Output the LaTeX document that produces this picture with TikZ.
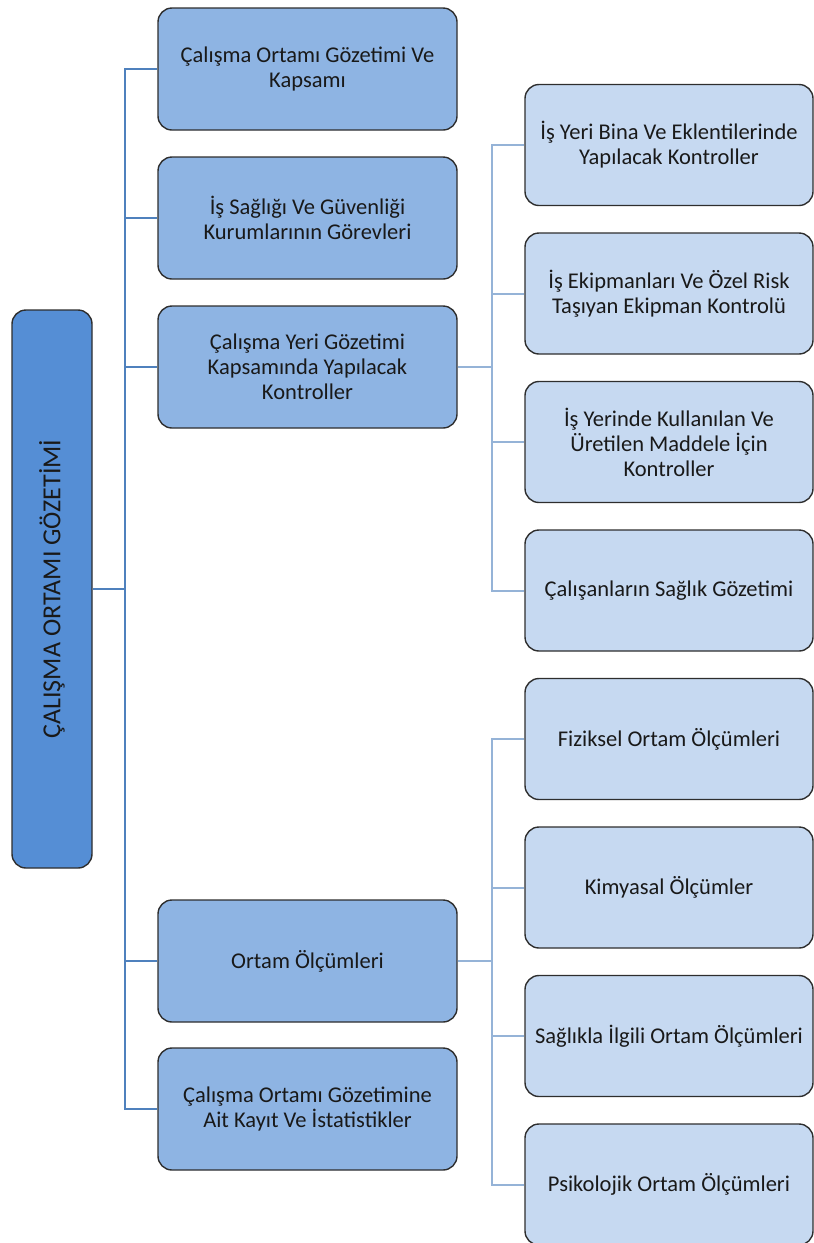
\documentclass[tikz,border=0pt]{standalone}
\usepackage{fontspec}
\setmainfont{Carlito}
\usetikzlibrary{positioning}
\definecolor{rootblue}{HTML}{558ED5}
\definecolor{midblue}{HTML}{8EB4E3}
\definecolor{leafblue}{HTML}{C6D9F1}
\definecolor{trunkline}{HTML}{4F81BD}
\definecolor{branchline}{HTML}{95B3D7}
\definecolor{edgegray}{HTML}{2E2E2E}
\tikzset{
  box/.style={rectangle, rounded corners=14pt, draw=edgegray, line width=1.4pt, align=center,
              text=black!90, inner sep=2pt, font=\fontsize{22.5}{25}\selectfont},
  rootbox/.style={box, fill=rootblue, minimum width=80pt, minimum height=558pt},
  roottext/.style={rotate=90, text=black!90, font=\fontsize{26}{30}\selectfont},
  midbox/.style={box, fill=midblue, minimum width=299pt, minimum height=122pt},
  leafbox/.style={box, fill=leafblue, minimum width=288pt, minimum height=121pt},
  trunk/.style={draw=trunkline, line width=2pt},
  branch/.style={draw=branchline, line width=2pt},
}
\begin{document}
\begin{tikzpicture}[x=1pt, y=-1pt]
  \useasboundingbox (0,0) rectangle (814,1243);

  % root
  \node[rootbox] (root) at (52,589) {};
  \node[roottext] (roottitle) at (root.center) {ÇALIŞMA ORTAMI GÖZETİMİ};

  % first level
  \node[midbox] (m1) at (307.5,69)   {Çalışma Ortamı Gözetimi Ve\\Kapsamı};
  \node[midbox] (m2) at (307.5,218)  {İş Sağlığı Ve Güvenliği\\Kurumlarının Görevleri};
  \node[midbox] (m3) at (307.5,367)  {Çalışma Yeri Gözetimi\\Kapsamında Yapılacak\\Kontroller};
  \node[midbox] (m4) at (307.5,961)  {Ortam Ölçümleri};
  \node[midbox] (m5) at (307.5,1109) {Çalışma Ortamı Gözetimine\\Ait Kayıt Ve İstatistikler};

  % second level
  \node[leafbox] (l1) at (669,145)    {İş Yeri Bina Ve Eklentilerinde\\Yapılacak Kontroller};
  \node[leafbox] (l2) at (669,293.5)  {İş Ekipmanları Ve Özel Risk\\Taşıyan Ekipman Kontrolü};
  \node[leafbox] (l3) at (669,442)    {İş Yerinde Kullanılan Ve\\Üretilen Maddele İçin\\Kontroller};
  \node[leafbox] (l4) at (669,590.5)  {Çalışanların Sağlık Gözetimi};
  \node[leafbox] (l5) at (669,739)    {Fiziksel Ortam Ölçümleri};
  \node[leafbox] (l6) at (669,887.5)  {Kimyasal Ölçümler};
  \node[leafbox] (l7) at (669,1036)   {Sağlıkla İlgili Ortam Ölçümleri};
  \node[leafbox] (l8) at (669,1184.5) {Psikolojik Ortam Ölçümleri};

  \coordinate (spine) at (125,589);
  \coordinate (forka) at (492,367);
  \coordinate (forkb) at (492,961);

  \draw[trunk] (root.east) -- (spine);
  \foreach \n in {m1,m2,m3,m4,m5}
    \draw[trunk] (spine) |- (\n.west);

  \draw[branch] (m3.east) -- (forka);
  \foreach \n in {l1,l2,l3,l4}
    \draw[branch] (forka) |- (\n.west);
  \draw[branch] (m4.east) -- (forkb);
  \foreach \n in {l5,l6,l7,l8}
    \draw[branch] (forkb) |- (\n.west);
\end{tikzpicture}
\end{document}
